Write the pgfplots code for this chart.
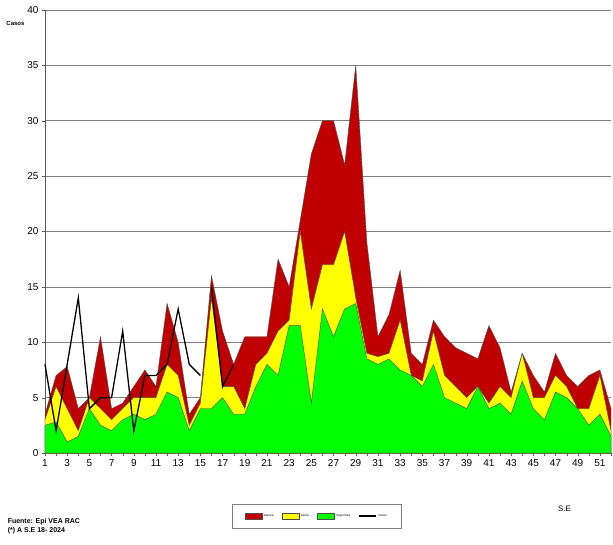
\documentclass[border=0pt]{standalone}
\usepackage{pgfplots}
\pgfplotsset{compat=1.18}
\usepackage{fontspec}
\setmainfont{Liberation Sans}
\definecolor{alarm}{RGB}{192,0,0}
\definecolor{alert}{RGB}{255,255,0}
\definecolor{safe}{RGB}{0,255,0}
\begin{document}
\begin{tikzpicture}
\path[use as bounding box] (-45pt,-91pt) rectangle (568pt,453pt);
\begin{axis}[at={(0,0)},anchor=south west,scale only axis,width=566pt,height=443pt,
 xmin=1,xmax=52,ymin=0,ymax=40,
 xtick={1,3,...,51},minor xtick={2,4,...,52},ytick={0,5,...,40},
 ymajorgrids, grid style={gray,line width=0.6pt},
 axis line style={gray!70!black},
 tick style={gray!70!black},tick align=outside,major tick length=3pt,minor tick length=3pt,
 axis x line*=bottom, axis y line*=left,
 ticklabel style={font=\fontsize{10}{11}\selectfont},
 /pgf/number format/assume math mode=true,
 clip=false,
 legend style={at={(0.48,-0.142)},anchor=center,font=\fontsize{3}{3}\selectfont,draw=gray,legend columns=4,
   /tikz/every even column/.append style={column sep=6pt},inner xsep=12pt,inner ysep=8pt},
]
\addplot[fill=alarm,draw=black!70,line width=0.4pt,area legend] coordinates {
(1,3.5)(2,7)(3,7.8)(4,4)(5,5)(6,10.5)(7,4)(8,4.5)(9,6)(10,7.5)(11,6)(12,13.5)(13,10)(14,3.5)(15,5)(16,16)(17,11)(18,8)(19,10.5)(20,10.5)(21,10.5)(22,17.5)(23,15)(24,21)(25,27)(26,30)(27,30)(28,26)(29,35)(30,19)(31,10.5)(32,12.5)(33,16.5)(34,9)(35,8)(36,12)(37,10.5)(38,9.5)(39,9)(40,8.5)(41,11.5)(42,9.5)(43,5.5)(44,9)(45,7)(46,5.5)(47,9)(48,7)(49,6)(50,7)(51,7.5)(52,4)} \closedcycle;
\addlegendentry{Alarma}
\addplot[fill=alert,draw=black!70,line width=0.4pt,area legend] coordinates {
(1,3)(2,6)(3,4)(4,2)(5,5)(6,4)(7,3)(8,4)(9,5)(10,5)(11,5)(12,8)(13,7)(14,2.5)(15,4.5)(16,14)(17,6)(18,6)(19,4)(20,8)(21,9)(22,11)(23,12)(24,20)(25,13)(26,17)(27,17)(28,20)(29,14)(30,9)(31,8.7)(32,9)(33,12)(34,7)(35,6.5)(36,11)(37,7)(38,6)(39,5)(40,6)(41,4.5)(42,6)(43,5)(44,9)(45,5)(46,5)(47,7)(48,6)(49,4)(50,4)(51,7)(52,2)} \closedcycle;
\addlegendentry{Alerta}
\addplot[fill=safe,draw=black!70,line width=0.4pt,area legend] coordinates {
(1,2.5)(2,2.8)(3,1)(4,1.5)(5,4)(6,2.5)(7,2)(8,3)(9,3.5)(10,3)(11,3.5)(12,5.5)(13,5)(14,2)(15,4)(16,4)(17,5)(18,3.5)(19,3.5)(20,6)(21,8)(22,7)(23,11.5)(24,11.5)(25,4.5)(26,13)(27,10.5)(28,13)(29,13.5)(30,8.5)(31,8)(32,8.5)(33,7.5)(34,7)(35,6)(36,8)(37,5)(38,4.5)(39,4)(40,6)(41,4)(42,4.5)(43,3.5)(44,6.5)(45,4)(46,3)(47,5.5)(48,5)(49,4)(50,2.5)(51,3.5)(52,1.5)} \closedcycle;
\addlegendentry{Seguridad}
\addplot[black,line width=1.3pt,unbounded coords=jump] coordinates {
(1,8)(2,2)(3,8)(4,14)(5,4)(6,5)(7,5)(8,11)(9,2)(10,7)(11,7)(12,8)(13,13)(14,8)(15,7)(15.5,nan)(16,15)(17,6)(18,8)};
\addlegendentry{Casos}
\node[font=\fontsize{6}{7}\selectfont\bfseries,anchor=east] at (rel axis cs:-0.03,0.97) {Casos};
\node[font=\fontsize{8}{9}\selectfont,anchor=center] at (rel axis cs:0.918,-0.125) {S.E};
\node[font=\fontsize{7}{9}\selectfont\bfseries,anchor=north west,align=left] at (rel axis cs:-0.072,-0.14) {Fuente: Epi VEA RAC\\(*) A S.E 18- 2024};
\end{axis}
\end{tikzpicture}
\end{document}
